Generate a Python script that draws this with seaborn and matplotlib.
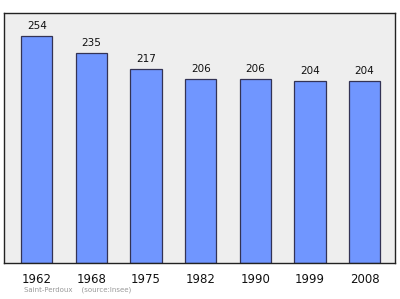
import matplotlib
matplotlib.use("Agg")
import matplotlib.pyplot as plt
import seaborn as sns
import pandas as pd

years = ["1962", "1968", "1975", "1982", "1990", "1999", "2008"]
population = [254, 235, 217, 206, 206, 204, 204]
footer = "Saint-Perdoux    (source:Insee)"

sns.set_style("white")
plt.rcParams['font.family'] = ['DejaVu Sans']

df = pd.DataFrame({"year": years, "pop": population})

fig = plt.figure(figsize=(4.0, 2.99), dpi=100)
ax = fig.add_axes([0.01, 0.12, 0.978, 0.835])
ax.set_facecolor("#eeeeee")
sns.barplot(data=df, x="year", y="pop", ax=ax, color="#7096ff", saturation=1,
            width=0.57, edgecolor="#333355", linewidth=0.9)
ax.set_xlim(-0.6, 6.56)
ax.set_ylim(0, 279)
for i, v in enumerate(population):
    ax.text(i, v + 5, str(v), ha="center", va="bottom", fontsize=7.5, color="#111111")
ax.set_xlabel("")
ax.set_ylabel("")
ax.set_yticks([])
ax.tick_params(axis="x", length=0, labelsize=8.5, pad=7, colors="#111111")
for s in ax.spines.values():
    s.set_visible(True)
    s.set_color("#222222")
    s.set_linewidth(1.0)
fig.text(0.06, 0.02, footer, fontsize=5, color="#999999", ha="left", va="bottom")
fig.savefig("out.png", dpi=100, facecolor="white")
